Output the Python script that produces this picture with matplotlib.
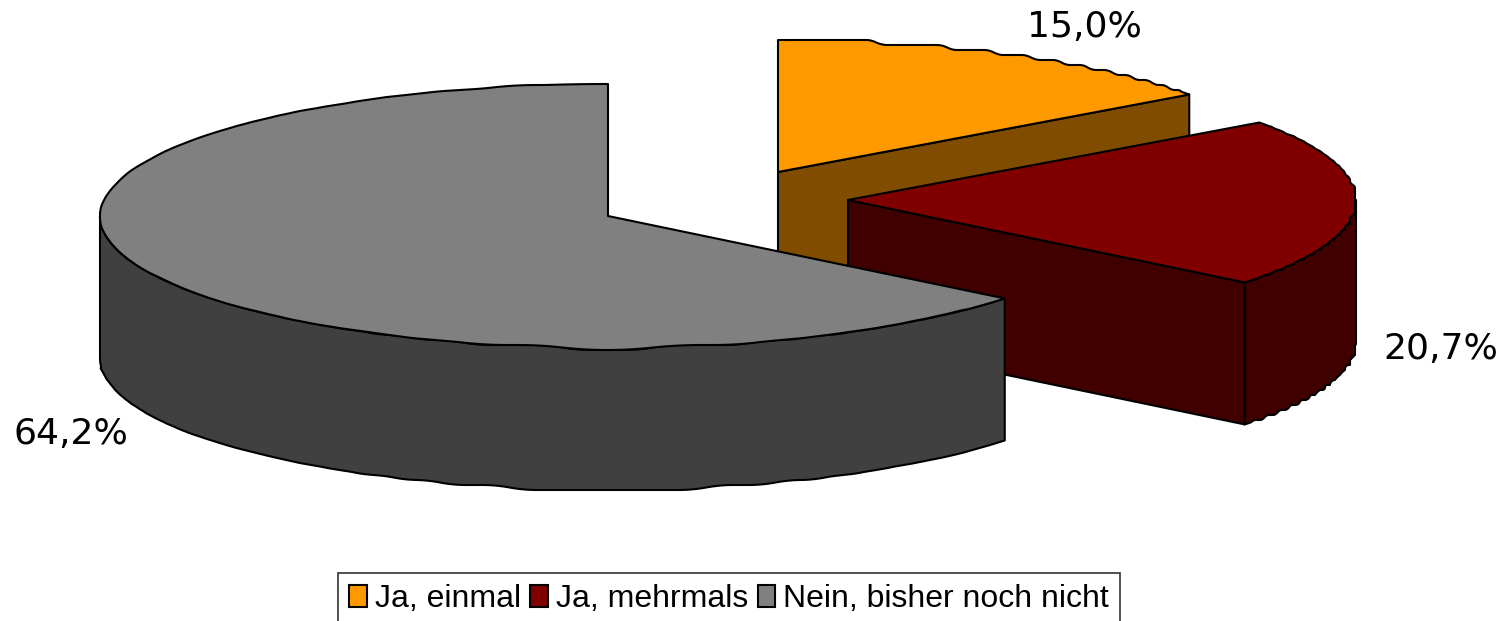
import numpy as np
import matplotlib
matplotlib.use('Agg')
import matplotlib.pyplot as plt
from matplotlib.patches import Patch, Polygon

# Chart values
categories = ['Ja, einmal', 'Ja, mehrmals', 'Nein, bisher noch nicht']
shares = [15.0, 20.7, 64.2]
share_labels = ['15,0%', '20,7%', '64,2%']

# Colours per slice
top_colors = ['#FF9900', '#800000', '#808080']
side_colors = ['#804C00', '#400000', '#404040']

# Pie geometry in picture pixels
centers = [(778, 172), (848, 200), (608, 216)]
rx, ry = 508, 132
depth = 142
label_pos = [(1084, 27), (1441, 349), (71, 434)]
edge_lw = 1.5
step = 5  # the source was a low-res bitmap, its outline is a bit stepped


def rim(cx, cy, a0, a1, drop=0):
    # Points on the ellipse, angles in degrees clockwise from 12 o'clock
    a = np.radians(np.linspace(a0, a1, 400))
    pts = np.column_stack((cx + rx * np.sin(a), cy - ry * np.cos(a) + drop))
    snapped = np.round(pts / step) * step
    for k in range(2):
        snapped = np.column_stack((np.convolve(snapped[:, 0], np.ones(9) / 9, mode='same'),
                                   np.convolve(snapped[:, 1], np.ones(9) / 9, mode='same')))
    # Ends stay exact so that the cut faces meet
    snapped[:12] = pts[:12]
    snapped[-12:] = pts[-12:]
    return snapped


def add_poly(ax, pts, color):
    ax.add_patch(Polygon(pts, closed=True, facecolor=color, edgecolor='black',
                         linewidth=edge_lw, joinstyle='round'))


fig = plt.figure(figsize=(15.11, 6.21), dpi=100)
ax = fig.add_axes([0, 0, 1, 1])
ax.set_xlim(0, 1511)
ax.set_ylim(621, 0)
ax.axis('off')

# Slices run clockwise from the top, back ones get drawn first
total = sum(shares)
start = 0
for i, share in enumerate(shares):
    end = start + 360 * share / total
    if i == len(shares) - 1:
        end = 360
    cx, cy = centers[i]

    # Cut face at the end of the slice, only seen when it faces the viewer
    if end < 180:
        edge = np.array([cx + rx * np.sin(np.radians(end)), cy - ry * np.cos(np.radians(end))])
        add_poly(ax, [(cx, cy), edge, edge + (0, depth), (cx, cy + depth)], side_colors[i])

    # Outer wall, front half of the ellipse only
    w0, w1 = max(start, 90), min(end, 270)
    if w0 < w1:
        add_poly(ax, np.vstack((rim(cx, cy, w0, w1),
                                rim(cx, cy, w1, w0, depth))), side_colors[i])

    # Top face
    add_poly(ax, np.vstack(([(cx, cy)], rim(cx, cy, start, end))), top_colors[i])
    start = end

for txt, (x, y) in zip(share_labels, label_pos):
    ax.text(x, y, txt, fontsize=26, ha='center', va='center', color='black',
            family='DejaVu Sans')

handles = [Patch(facecolor=c, edgecolor='black', linewidth=1.5) for c in top_colors]
leg = ax.legend(handles, categories, ncol=3, loc='upper left',
                bbox_to_anchor=(338, 573), bbox_transform=ax.transData,
                prop={'family': 'Liberation Sans', 'size': 23},
                frameon=True, fancybox=False, framealpha=1, edgecolor='#333333',
                borderaxespad=0, borderpad=0.35, handlelength=0.55, handleheight=0.7,
                handletextpad=0.25, columnspacing=0.3)
leg.get_frame().set_linewidth(1.2)

fig.savefig('out.png', dpi=100)
